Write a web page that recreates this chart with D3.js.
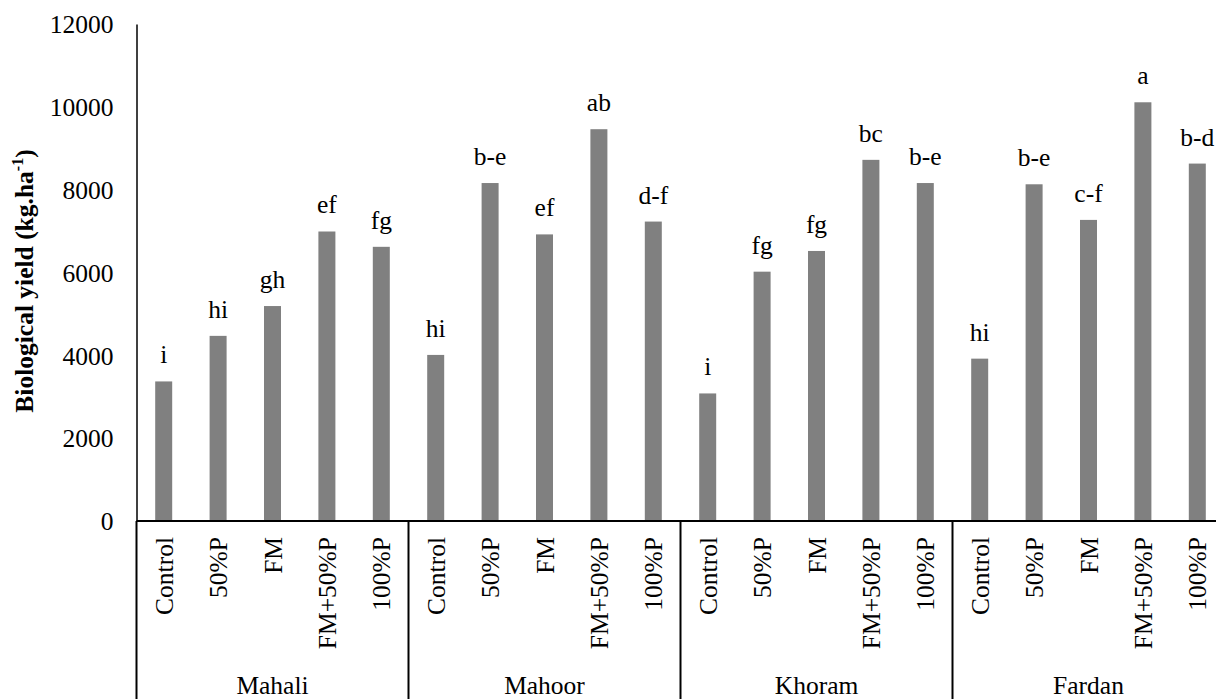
<!DOCTYPE html>
<html>
<head>
<meta charset="utf-8">
<script src="https://cdn.jsdelivr.net/npm/d3@7"></script>
<style>
  html, body { margin: 0; padding: 0; background: #fff; }
  svg { display: block; }
  svg text { font-family: "Liberation Serif", "Times New Roman", Times, "DejaVu Serif", serif !important; }
</style>
</head>
<body>
<svg id="chart" width="1216" height="699"></svg>
<script>
// Cultivars and fertilizer treatments
const cultivars = ["Mahali", "Mahoor", "Khoram", "Fardan"];
const treatments = ["Control", "50%P", "FM", "FM+50%P", "100%P"];

// Biological yield (kg/ha) per cultivar, in treatment order
const yieldMahali = [3370, 4470, 5190, 6990, 6620];
const yieldMahoor = [4010, 8160, 6920, 9460, 7230];
const yieldKhoram = [3080, 6020, 6520, 8720, 8160];
const yieldFardan = [3920, 8130, 7270, 10110, 8630];

// Mean-separation letters, in treatment order
const lettersMahali = ["i", "hi", "gh", "ef", "fg"];
const lettersMahoor = ["hi", "b-e", "ef", "ab", "d-f"];
const lettersKhoram = ["i", "fg", "fg", "bc", "b-e"];
const lettersFardan = ["hi", "b-e", "c-f", "a", "b-d"];

// Y-axis tick values
const yTicks = [0, 2000, 4000, 6000, 8000, 10000, 12000];

(function () {
  const yieldByCultivar = [yieldMahali, yieldMahoor, yieldKhoram, yieldFardan];
  const lettersByCultivar = [lettersMahali, lettersMahoor, lettersKhoram, lettersFardan];

  const rows = [];
  cultivars.forEach((c, ci) => {
    treatments.forEach((t, ti) => {
      rows.push({ key: c + "|" + t, cultivar: c, treatment: t,
                  value: yieldByCultivar[ci][ti], letter: lettersByCultivar[ci][ti] });
    });
  });

  const svg = d3.select("#chart");
  const plotLeft = 136.5, plotRight = 1224.5, plotTop = 24, plotBase = 521;
  const fontSize = 25.5;

  const x = d3.scaleBand()
    .domain(rows.map(d => d.key))
    .range([plotLeft, plotRight])
    .paddingInner(0.6875)
    .paddingOuter(0.34375);

  const y = d3.scaleLinear().domain([0, 12000]).range([plotBase, plotTop]);

  // Bars
  svg.append("g").selectAll("rect")
    .data(rows)
    .join("rect")
    .attr("x", d => x(d.key))
    .attr("y", d => y(d.value))
    .attr("width", x.bandwidth())
    .attr("height", d => y(0) - y(d.value))
    .attr("fill", "#808080");

  // Letters above bars
  svg.append("g").selectAll("text")
    .data(rows)
    .join("text")
    .attr("x", d => x(d.key) + x.bandwidth() / 2)
    .attr("y", d => y(d.value) - 18)
    .attr("text-anchor", "middle")
    .attr("font-size", fontSize)
    .attr("fill", "#000")
    .text(d => d.letter);

  // Y axis
  const yAxis = svg.append("g")
    .attr("transform", `translate(${plotLeft},0)`)
    .call(d3.axisLeft(y).tickValues(yTicks).tickSize(0).tickSizeOuter(0).tickPadding(23).tickFormat(d3.format("d")));
  yAxis.attr("font-family", null).attr("font-size", null);
  yAxis.select(".domain").attr("stroke", "#000").attr("stroke-width", 1.5);
  yAxis.selectAll("text")
    .attr("font-size", fontSize)
    .attr("fill", "#000")
    .attr("dy", "0.34em");

  // Y axis title with superscript
  const title = svg.append("text")
    .attr("transform", "translate(33,281) rotate(-90)")
    .attr("text-anchor", "middle")
    .attr("font-size", fontSize)
    .attr("font-weight", "bold")
    .attr("fill", "#000");
  title.append("tspan").text("Biological yield (kg.ha");
  title.append("tspan").attr("font-size", 16).attr("dy", -10).text("-1");
  title.append("tspan").attr("dy", 10).text(")");

  // Category axis: baseline and group separators
  const axisG = svg.append("g").attr("stroke", "#000").attr("stroke-width", 2);
  axisG.append("line")
    .attr("x1", plotLeft).attr("x2", 1216)
    .attr("y1", plotBase).attr("y2", plotBase);
  const step = x.step();
  const groupBounds = cultivars.map(c => {
    const first = x(c + "|" + treatments[0]);
    const x0 = first - (step - x.bandwidth()) / 2;
    return { cultivar: c, x0: x0, x1: x0 + step * treatments.length };
  });
  const sepXs = [groupBounds[0].x0].concat(groupBounds.map(g => g.x1));
  axisG.selectAll("line.sep")
    .data(sepXs)
    .join("line")
    .attr("class", "sep")
    .attr("x1", d => d).attr("x2", d => d)
    .attr("y1", plotBase).attr("y2", 699);

  // Treatment labels (rotated)
  svg.append("g").selectAll("text")
    .data(rows)
    .join("text")
    .attr("transform", d => `translate(${x(d.key) + x.bandwidth() / 2},537) rotate(-90)`)
    .attr("text-anchor", "end")
    .attr("dy", "0.36em")
    .attr("font-size", fontSize)
    .attr("fill", "#000")
    .text(d => d.treatment);

  // Cultivar labels
  svg.append("g").selectAll("text")
    .data(groupBounds)
    .join("text")
    .attr("x", d => (d.x0 + d.x1) / 2)
    .attr("y", 694)
    .attr("text-anchor", "middle")
    .attr("font-size", fontSize)
    .attr("fill", "#000")
    .text(d => d.cultivar);
})();
</script>
</body>
</html>
